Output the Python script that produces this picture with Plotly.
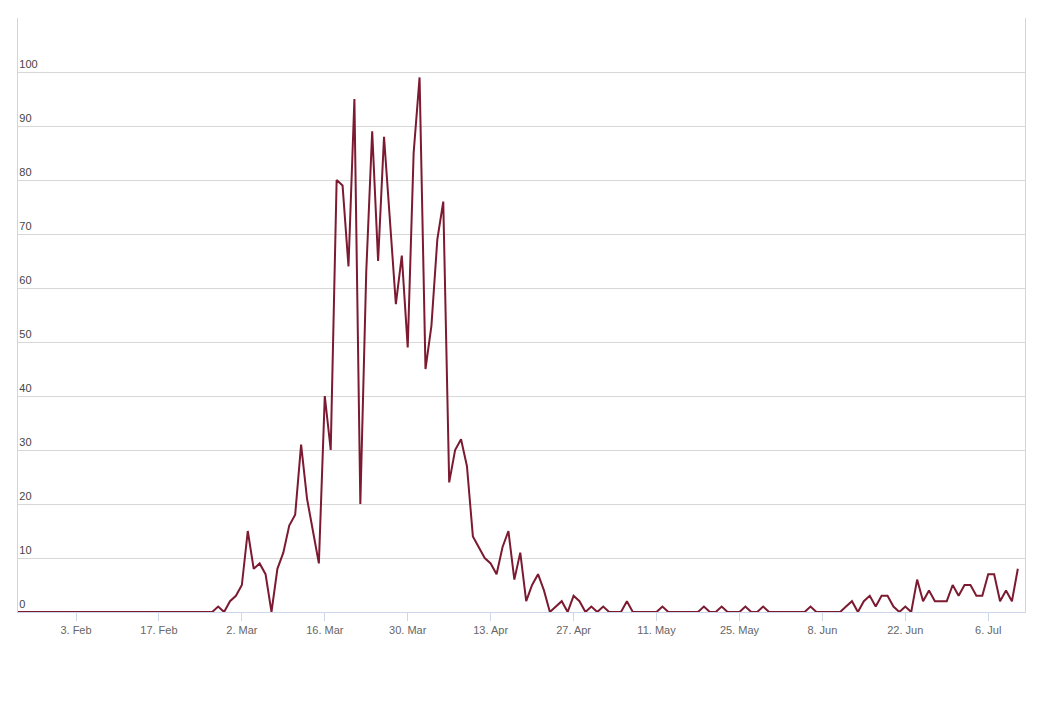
import plotly.graph_objects as go
import pandas as pd

start_date = "2020-01-24"
values = ([0]*34 +
    [1,0,2,3,5,15,8,9,7,0,8,11,16,18,31,21,15,9,40,30,80,79,64,95,20,63,89,65,88,72,57,66,49,85,99,45,53,69,76] +
    [24,30,32,27,14,12,10,9,7,12,15,6,11,2,5,7,4,0,1,2,0,3,2,0,1,0,1,0,0,0] +
    [2,0,0,0,0,0,1,0,0,0,0,0,0,1,0,0,1,0,0,0,1,0,0,1,0,0,0,0,0,0,0,1,0,0,0,0,0] +
    [1,2,0,2,3,1,3,3,1,0,1,0,6,2,4,2,2,2,5,3,5,5,3,3,7,7,2,4,2,8])
dates = pd.date_range(start_date, periods=len(values), freq="D")
tick_dates = pd.date_range("2020-02-03", "2020-07-06", freq="14D")
y_ticks = list(range(0, 111, 10))

fig = go.Figure(go.Scatter(x=dates, y=values, mode="lines",
                           line=dict(color="#7b1a30", width=2), hoverinfo="x+y"))
fig.update_layout(
    width=1057, height=708, plot_bgcolor="white", paper_bgcolor="white",
    margin=dict(l=10, r=40, t=10, b=104), showlegend=False,
    font=dict(family="Liberation Sans, Arial", size=11, color="#666666"),
    xaxis=dict(range=[pd.Timestamp("2020-01-24 05:00"), pd.Timestamp("2020-07-12 05:00")],
               tickvals=tick_dates, ticktext=[d.strftime("%-d. %b") for d in tick_dates],
               ticks="outside", ticklen=8, tickcolor="#ccd6eb", showgrid=False,
               showline=True, linecolor="#ccd6eb", zeroline=False),
    yaxis=dict(range=[0, 110], tickvals=y_ticks, ticklabelposition="inside top",
               gridcolor="#d8d8d8", showline=True, linecolor="#ccd6eb", mirror=True,
               zeroline=False, ticks=""),
)
fig.write_html("out.html")
